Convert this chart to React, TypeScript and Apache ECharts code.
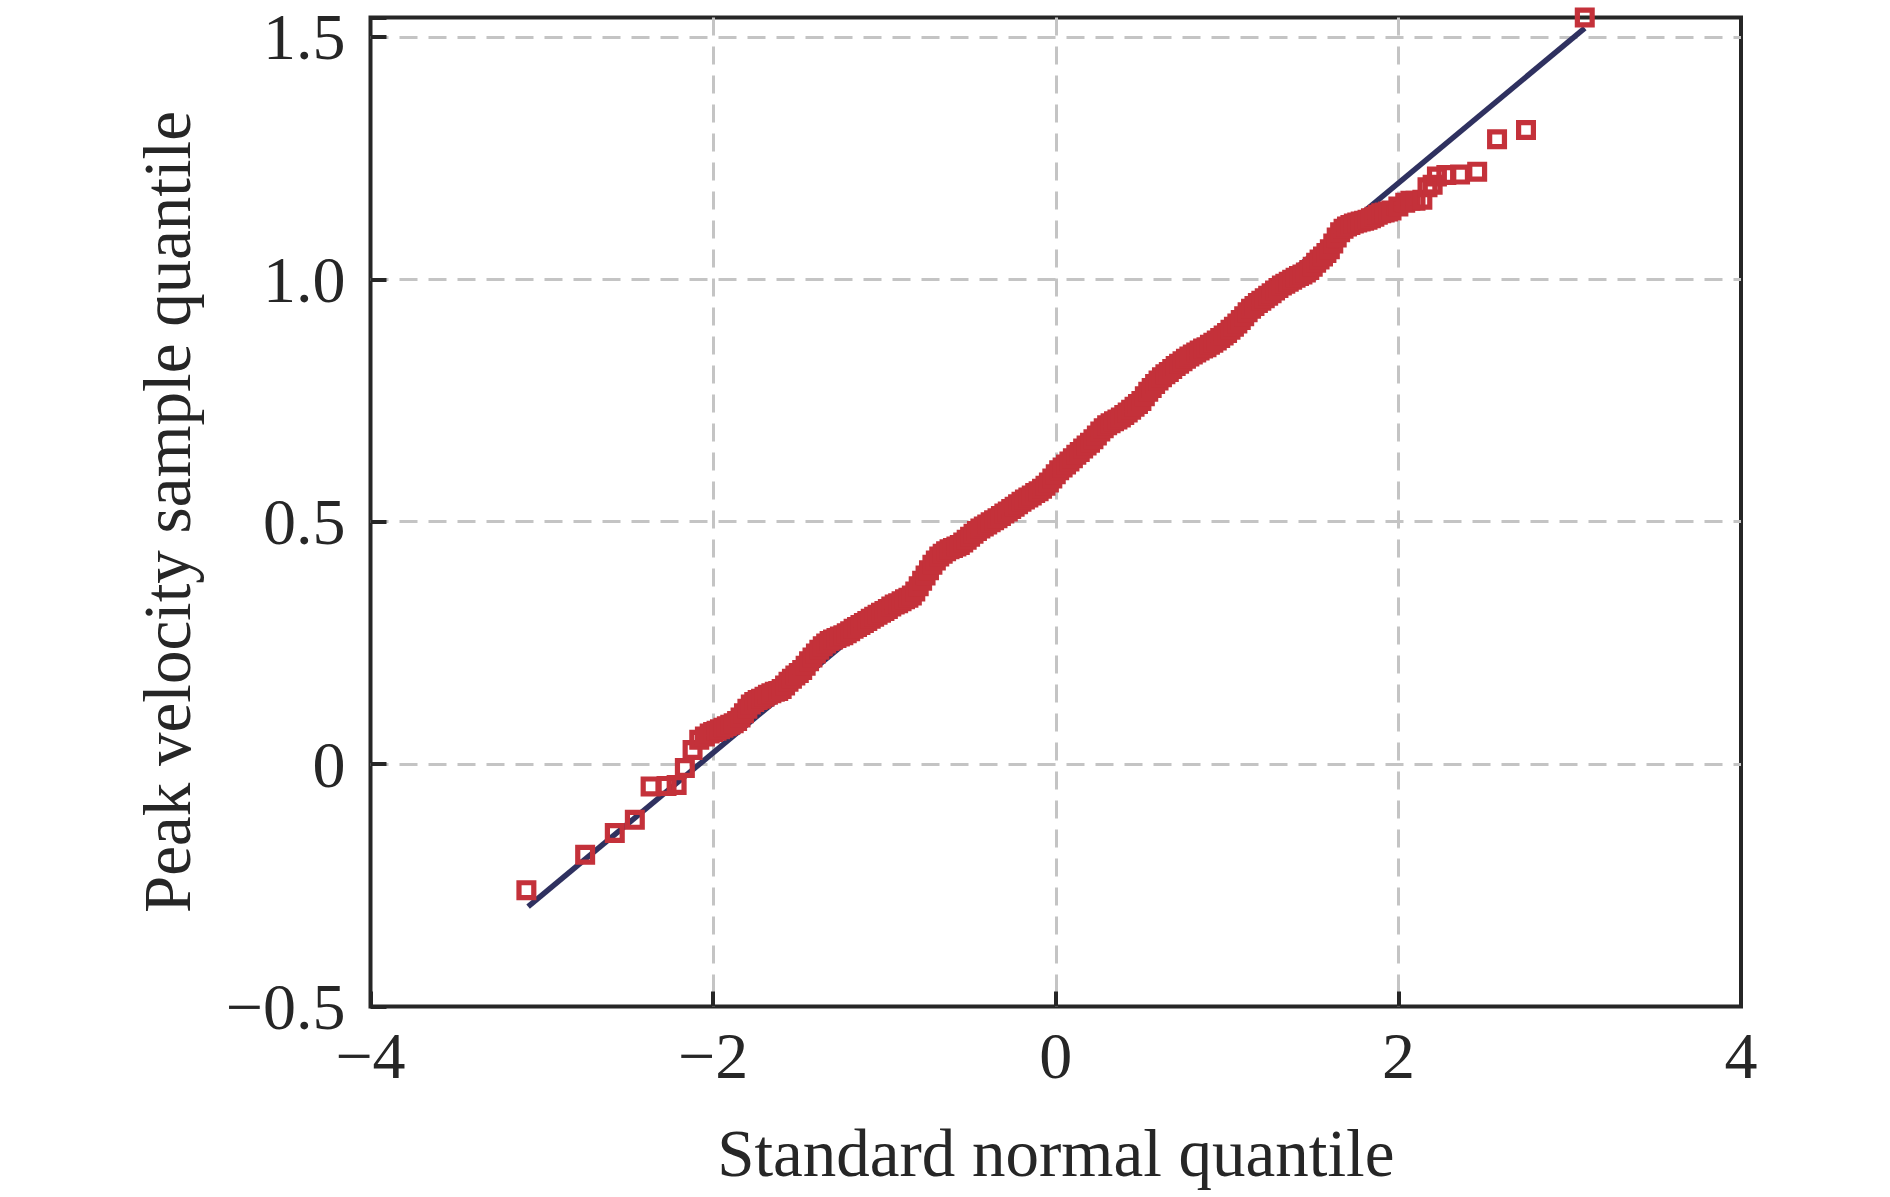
import React, { useEffect, useRef } from "react";
import * as echarts from "echarts";

// Theoretical (standard normal) quantiles
const theoreticalQuantiles = [
  -3.09, -2.747, -2.574, -2.457, -2.365, -2.272, -2.213, -2.165, -2.12, -2.081, -2.048, -2.02, -2.0,
  -1.98, -1.96, -1.94, -1.92, -1.9, -1.88, -1.86, -1.84, -1.82, -1.8,
  -1.78, -1.76, -1.74, -1.72, -1.7, -1.68, -1.66, -1.64, -1.62, -1.6,
  -1.58, -1.56, -1.54, -1.52, -1.5, -1.48, -1.46, -1.44, -1.42, -1.4,
  -1.38, -1.36, -1.34, -1.32, -1.3, -1.28, -1.26, -1.24, -1.22, -1.2,
  -1.18, -1.16, -1.14, -1.12, -1.1, -1.08, -1.06, -1.04, -1.02, -1.0,
  -0.98, -0.96, -0.94, -0.92, -0.9, -0.88, -0.86, -0.84, -0.82, -0.8,
  -0.78, -0.76, -0.74, -0.72, -0.7, -0.68, -0.66, -0.64, -0.62, -0.6,
  -0.58, -0.56, -0.54, -0.52, -0.5, -0.48, -0.46, -0.44, -0.42, -0.4,
  -0.38, -0.36, -0.34, -0.32, -0.3, -0.28, -0.26, -0.24, -0.22, -0.2,
  -0.18, -0.16, -0.14, -0.12, -0.1, -0.08, -0.06, -0.04, -0.02, 0.0,
  0.02, 0.04, 0.06, 0.08, 0.1, 0.12, 0.14, 0.16, 0.18, 0.2,
  0.22, 0.24, 0.26, 0.28, 0.3, 0.32, 0.34, 0.36, 0.38, 0.4,
  0.42, 0.44, 0.46, 0.48, 0.5, 0.52, 0.54, 0.56, 0.58, 0.6,
  0.62, 0.64, 0.66, 0.68, 0.7, 0.72, 0.74, 0.76, 0.78, 0.8,
  0.82, 0.84, 0.86, 0.88, 0.9, 0.92, 0.94, 0.96, 0.98, 1.0,
  1.02, 1.04, 1.06, 1.08, 1.1, 1.12, 1.14, 1.16, 1.18, 1.2,
  1.22, 1.24, 1.26, 1.28, 1.3, 1.32, 1.34, 1.36, 1.38, 1.4,
  1.42, 1.44, 1.46, 1.48, 1.5, 1.52, 1.54, 1.56, 1.58, 1.6,
  1.62, 1.64, 1.66, 1.68, 1.7, 1.72, 1.74, 1.76, 1.78, 1.8,
  1.82, 1.84, 1.86, 1.88, 1.9, 1.92, 1.94, 1.96,
  2.0, 2.04, 2.07, 2.1, 2.14, 2.17, 2.2, 2.225, 2.28, 2.36, 2.46, 2.576, 2.745, 3.088,
];

// Sample quantiles of peak velocity
const sampleQuantiles = [
  -0.26, -0.187, -0.142, -0.115, -0.046, -0.045, -0.043, -0.008, 0.029, 0.05, 0.057, 0.063, 0.066,
  0.069, 0.072, 0.075, 0.078, 0.081, 0.084, 0.089, 0.096, 0.105, 0.114,
  0.123, 0.128, 0.132, 0.135, 0.139, 0.143, 0.146, 0.149, 0.151, 0.155,
  0.162, 0.17, 0.176, 0.183, 0.188, 0.194, 0.203, 0.212, 0.22, 0.228,
  0.236, 0.243, 0.249, 0.254, 0.257, 0.26, 0.263, 0.266, 0.27, 0.274,
  0.279, 0.283, 0.287, 0.291, 0.295, 0.3, 0.304, 0.308, 0.312, 0.316,
  0.32, 0.325, 0.329, 0.332, 0.336, 0.34, 0.343, 0.348, 0.356, 0.367,
  0.378, 0.389, 0.4, 0.411, 0.42, 0.428, 0.434, 0.439, 0.443, 0.446,
  0.449, 0.452, 0.457, 0.463, 0.469, 0.475, 0.481, 0.486, 0.49, 0.494,
  0.499, 0.503, 0.507, 0.512, 0.517, 0.521, 0.526, 0.531, 0.536, 0.541,
  0.546, 0.55, 0.554, 0.559, 0.563, 0.568, 0.574, 0.581, 0.589, 0.598,
  0.606, 0.612, 0.618, 0.624, 0.631, 0.638, 0.644, 0.651, 0.657, 0.663,
  0.67, 0.678, 0.686, 0.693, 0.699, 0.703, 0.707, 0.711, 0.715, 0.72,
  0.725, 0.731, 0.737, 0.743, 0.749, 0.759, 0.768, 0.776, 0.784, 0.791,
  0.798, 0.804, 0.809, 0.815, 0.821, 0.826, 0.831, 0.836, 0.841, 0.845,
  0.849, 0.853, 0.857, 0.86, 0.865, 0.869, 0.874, 0.879, 0.884, 0.889,
  0.896, 0.902, 0.909, 0.916, 0.924, 0.932, 0.939, 0.945, 0.951, 0.956,
  0.961, 0.966, 0.971, 0.977, 0.982, 0.987, 0.991, 0.995, 0.999, 1.003,
  1.007, 1.01, 1.014, 1.019, 1.026, 1.034, 1.041, 1.047, 1.054, 1.062,
  1.074, 1.086, 1.097, 1.104, 1.109, 1.112, 1.115, 1.117, 1.119, 1.121,
  1.123, 1.126, 1.129, 1.133, 1.136, 1.138, 1.14, 1.142,
  1.15, 1.158, 1.162, 1.162, 1.164, 1.19, 1.195, 1.212, 1.215, 1.216, 1.222, 1.289, 1.308, 1.54,
];

// Reference line end points
const refLineX = [-3.08, 3.088];
const refLineY = [-0.294, 1.518];

const xAxisTitle = "Standard normal quantile";
const yAxisTitle = "Peak velocity sample quantile";

const FONT = '"Liberation Serif", "Times New Roman", serif';
const TEXT_COLOR = "#262626";
const MARKER_RED = "#C4313A";
const LINE_NAVY = "#2F3160";

function fmtX(v: number): string {
  if (Math.abs(v - Math.round(v)) > 1e-6) return "";
  const r = Math.round(v);
  return r < 0 ? "\u2212" + Math.abs(r) : String(r);
}

function fmtY(v: number): string {
  const r = Math.round(v * 2) / 2;
  if (Math.abs(v - r) > 1e-6) return "";
  if (r === 0) return "0";
  const s = Math.abs(r).toFixed(1);
  return r < 0 ? "\u2212" + s : s;
}

export default function App() {
  const ref = useRef<HTMLDivElement>(null);

  useEffect(() => {
    if (!ref.current) return;
    const chart = echarts.init(ref.current, undefined, { renderer: "svg" });
    const points = theoreticalQuantiles.map((x, i) => [x, sampleQuantiles[i]]);
    const linePts = refLineX.map((x, i) => [x, refLineY[i]]);

    chart.setOption({
      animation: false,
      backgroundColor: "#ffffff",
      grid: {
        left: 370.5,
        right: 149,
        top: 17.5,
        bottom: 190.5,
        show: true,
        borderColor: TEXT_COLOR,
        borderWidth: 4,
        backgroundColor: "transparent",
      },
      xAxis: {
        type: "value",
        min: -4,
        max: 4,
        interval: 2,
        name: xAxisTitle,
        nameLocation: "middle",
        nameGap: 113,
        nameTextStyle: { fontFamily: FONT, fontSize: 67, color: TEXT_COLOR },
        axisLine: { show: false, onZero: false },
        axisTick: { show: true, inside: true, length: 15, lineStyle: { color: TEXT_COLOR, width: 4 } },
        axisLabel: {
          margin: 16,
          fontFamily: FONT,
          fontSize: 66,
          color: TEXT_COLOR,
          formatter: fmtX,
        },
        splitLine: {
          show: true,
          showMinLine: false,
          showMaxLine: false,
          lineStyle: { color: "#c4c4c4", width: 3, type: [18, 11] },
        },
      },
      yAxis: {
        type: "value",
        min: -0.5,
        max: 1.54,
        interval: 0.5,
        name: yAxisTitle,
        nameLocation: "middle",
        nameRotate: 90,
        nameGap: 170,
        nameTextStyle: { fontFamily: FONT, fontSize: 67, color: TEXT_COLOR },
        axisLine: { show: false, onZero: false },
        axisTick: { show: true, inside: true, length: 16, lineStyle: { color: TEXT_COLOR, width: 4 } },
        axisLabel: {
          margin: 25,
          fontFamily: FONT,
          fontSize: 66,
          color: TEXT_COLOR,
          formatter: fmtY,
        },
        splitLine: {
          show: true,
          showMinLine: false,
          showMaxLine: false,
          lineStyle: { color: "#c4c4c4", width: 3, type: [18, 11] },
        },
      },
      series: [
        {
          type: "line",
          data: linePts,
          symbol: "none",
          lineStyle: { color: LINE_NAVY, width: 5.5 },
          z: 2,
          silent: true,
        },
        {
          type: "scatter",
          data: points,
          symbol: "rect",
          symbolSize: 14.8,
          itemStyle: { color: "transparent", borderColor: MARKER_RED, borderWidth: 5.2, opacity: 1 },
          z: 3,
          silent: true,
        },
      ],
    });

    return () => chart.dispose();
  }, []);

  return (
    <div
      ref={ref}
      style={{ position: "absolute", left: 0, top: 0, width: 1890, height: 1197, background: "#fff" }}
    />
  );
}
